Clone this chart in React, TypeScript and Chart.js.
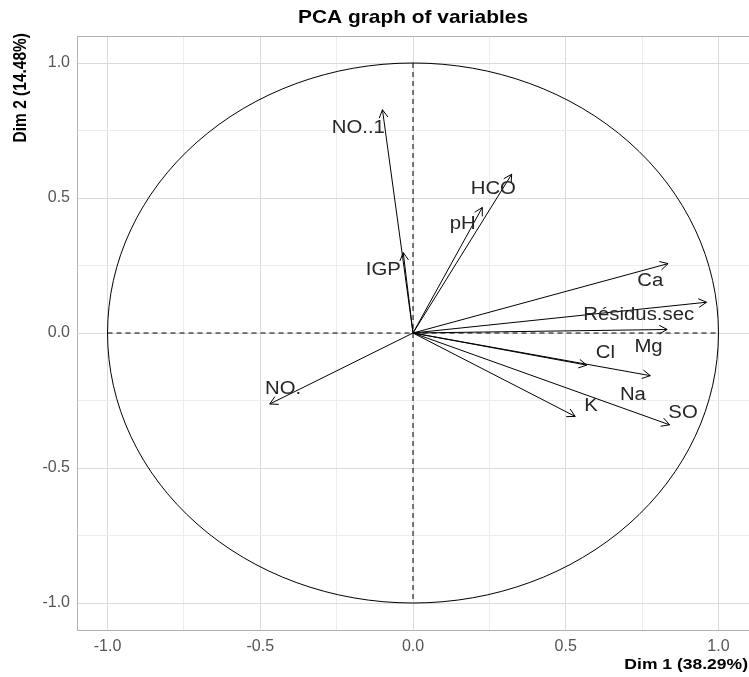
import React, { useEffect, useRef } from "react";
import { Chart, registerables } from "chart.js";

Chart.register(...registerables);

const varNames = ["Ca", "Résidus.sec", "Mg", "Cl", "Na", "K", "SO", "HCO", "pH", "IGP", "NO..1", "NO."];
const dim1 = [0.835, 0.961, 0.832, 0.569, 0.777, 0.531, 0.84, 0.323, 0.227, -0.032, -0.1, -0.469];
const dim2 = [0.257, 0.114, 0.013, -0.119, -0.158, -0.309, -0.34, 0.588, 0.465, 0.298, 0.827, -0.263];
const labelDim1 = [0.777, 0.739, 0.771, 0.63, 0.72, 0.583, 0.884, 0.263, 0.163, -0.097, -0.179, -0.425];
const labelDim2 = [0.192, 0.065, -0.051, -0.073, -0.228, -0.269, -0.296, 0.532, 0.403, 0.232, 0.759, -0.207];
const tickValues = [-1, -0.75, -0.5, -0.25, 0, 0.25, 0.5, 0.75, 1];
const majorTicks = [-1, -0.5, 0, 0.5, 1];

const titleText = "PCA graph of variables";
const xTitle = "Dim 1 (38.29%)";
const yTitle = "Dim 2 (14.48%)";

const FONT = '"Liberation Sans", Arial, sans-serif';
const SX = 1.13;

function drawText(ctx: CanvasRenderingContext2D, text: string, x: number, y: number, font: string, color: string, align: CanvasTextAlign) {
  ctx.save();
  ctx.translate(x, y);
  ctx.scale(SX, 1);
  ctx.font = font;
  ctx.fillStyle = color;
  ctx.textAlign = align;
  ctx.textBaseline = "middle";
  ctx.fillText(text, 0, 0);
  ctx.restore();
}

const pcaPlugin = {
  id: "pcaPlugin",
  beforeDatasetsDraw(chart: any) {
    const { ctx, chartArea, scales } = chart;
    const xs = scales.x;
    const ys = scales.y;
    ctx.save();
    ctx.strokeStyle = "#b3b3b3";
    ctx.lineWidth = 1;
    ctx.beginPath();
    ctx.moveTo(chartArea.left, chartArea.top + 0.5);
    ctx.lineTo(chartArea.right, chartArea.top + 0.5);
    ctx.stroke();
    ctx.strokeStyle = "#000";
    ctx.setLineDash([5, 4]);
    ctx.beginPath();
    ctx.moveTo(xs.getPixelForValue(-1), ys.getPixelForValue(0));
    ctx.lineTo(xs.getPixelForValue(1), ys.getPixelForValue(0));
    ctx.moveTo(xs.getPixelForValue(0), ys.getPixelForValue(1));
    ctx.lineTo(xs.getPixelForValue(0), ys.getPixelForValue(-1));
    ctx.stroke();
    ctx.setLineDash([]);
    const cx = xs.getPixelForValue(0);
    const cy = ys.getPixelForValue(0);
    const rx = xs.getPixelForValue(1) - cx;
    const ry = cy - ys.getPixelForValue(1);
    ctx.beginPath();
    ctx.ellipse(cx, cy, rx, ry, 0, 0, Math.PI * 2);
    ctx.stroke();
    ctx.restore();
  },
  afterDatasetsDraw(chart: any) {
    const { ctx, chartArea, scales } = chart;
    const xs = scales.x;
    const ys = scales.y;
    ctx.save();
    ctx.strokeStyle = "#000";
    ctx.lineWidth = 1;
    const ox = xs.getPixelForValue(0);
    const oy = ys.getPixelForValue(0);
    for (let i = 0; i < varNames.length; i++) {
      const tx = xs.getPixelForValue(dim1[i]);
      const ty = ys.getPixelForValue(dim2[i]);
      const a = Math.atan2(ty - oy, tx - ox);
      const L = 9;
      const w = 0.5;
      ctx.beginPath();
      ctx.moveTo(tx - L * Math.cos(a - w), ty - L * Math.sin(a - w));
      ctx.lineTo(tx, ty);
      ctx.lineTo(tx - L * Math.cos(a + w), ty - L * Math.sin(a + w));
      ctx.stroke();
    }
    for (let i = 0; i < varNames.length; i++) {
      drawText(ctx, varNames[i], xs.getPixelForValue(labelDim1[i]), ys.getPixelForValue(labelDim2[i]), `18px ${FONT}`, "#262626", "center");
    }
    drawText(ctx, titleText, (chartArea.left + chartArea.right) / 2, 18, `bold 18.5px ${FONT}`, "#000", "center");
    drawText(ctx, xTitle, 748, 665, `bold 15.5px ${FONT}`, "#000", "right");
    ctx.save();
    ctx.translate(21, 33);
    ctx.rotate(-Math.PI / 2);
    ctx.scale(1, SX);
    ctx.font = `bold 15.5px ${FONT}`;
    ctx.fillStyle = "#000";
    ctx.textAlign = "right";
    ctx.textBaseline = "middle";
    ctx.fillText(yTitle, 0, 0);
    ctx.restore();
    ctx.restore();
  },
};

export default function App() {
  const ref = useRef<HTMLCanvasElement>(null);
  useEffect(() => {
    if (!ref.current) return;
    const datasets = varNames.map((name, i) => ({
      label: name,
      data: [
        { x: 0, y: 0 },
        { x: dim1[i], y: dim2[i] },
      ],
      showLine: true,
      borderColor: "#000",
      borderWidth: 1,
      pointRadius: 0,
      fill: false,
    }));
    const gridColor = (c: any) => (majorTicks.includes(c.tick?.value) ? "#dadada" : "#ececec");
    const chart = new Chart(ref.current, {
      type: "scatter",
      data: { datasets },
      options: {
        animation: false,
        responsive: false,
        maintainAspectRatio: false,
        layout: { padding: { top: 36, left: 0, right: 0, bottom: 0 } },
        plugins: { legend: { display: false }, tooltip: { enabled: false }, title: { display: false } },
        scales: {
          x: {
            type: "linear",
            min: -1.1,
            max: 1.1,
            afterBuildTicks: (s: any) => {
              s.ticks = tickValues.map((v) => ({ value: v }));
            },
            afterFit: (s: any) => {
              s.height = 47;
            },
            ticks: {
              autoSkip: false,
              maxRotation: 0,
              padding: 7,
              color: "#555",
              font: { family: FONT, size: 16 },
              callback: (v: any) => (majorTicks.includes(Number(v)) ? Number(v).toFixed(1) : ""),
            },
            grid: { color: gridColor, drawTicks: false, lineWidth: 1 },
            border: { display: true, color: "#b3b3b3" },
          },
          y: {
            type: "linear",
            min: -1.1,
            max: 1.1,
            afterBuildTicks: (s: any) => {
              s.ticks = tickValues.map((v) => ({ value: v }));
            },
            afterFit: (s: any) => {
              s.width = 77;
            },
            ticks: {
              autoSkip: false,
              padding: 7,
              color: "#555",
              font: { family: FONT, size: 16 },
              callback: (v: any) => (majorTicks.includes(Number(v)) ? Number(v).toFixed(1) : ""),
            },
            grid: { color: gridColor, drawTicks: false, lineWidth: 1 },
            border: { display: true, color: "#b3b3b3" },
          },
        },
      },
      plugins: [pcaPlugin],
    } as any);
    return () => chart.destroy();
  }, []);
  return (
    <div style={{ position: "fixed", left: 0, top: 0, width: 749, height: 677, background: "#fff" }}>
      <canvas ref={ref} width={749} height={677} />
    </div>
  );
}
